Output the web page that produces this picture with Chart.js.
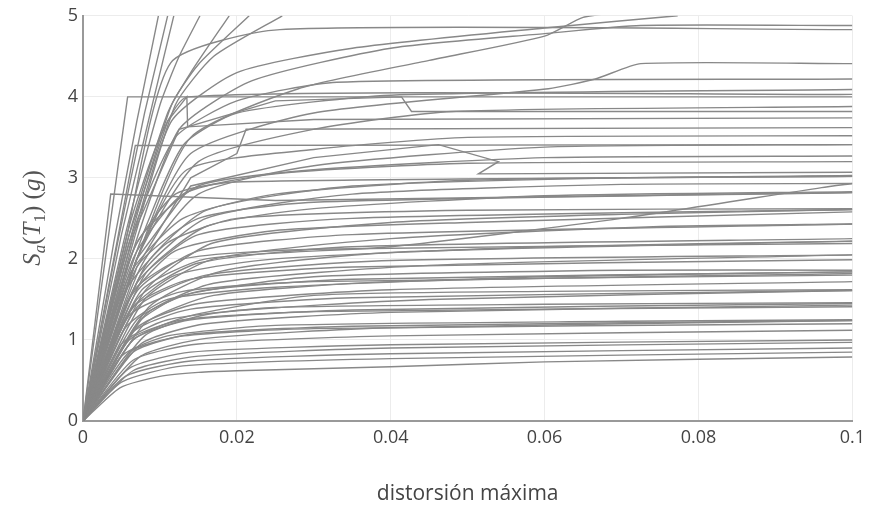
<!DOCTYPE html>
<html>
<head>
<meta charset="utf-8">
<script src="https://cdn.jsdelivr.net/npm/chart.js@4.4.0/dist/chart.umd.min.js"></script>
<style>
  html, body { margin: 0; padding: 0; background: #fff; }
  #wrap { width: 871px; height: 506px; }
</style>
</head>
<body>
<div id="wrap"><canvas id="idaChart" width="871" height="506"></canvas></div>
<script>
// Curvas IDA: cada registro es una lista de puntos [distorsión máxima, Sa(T1) en g]

// registros que superan Sa = 5 g o llegan cerca de ese nivel
const steepCurves = [
  [[0, 0], [0.0040, 2.2], [0.0070, 3.7], [0.0098, 5.0]],
  [[0, 0], [0.0045, 2.2], [0.0080, 3.8], [0.0110, 5.0]],
  [[0, 0], [0.0050, 2.3], [0.0090, 3.9], [0.0118, 5.0]],
  [[0, 0], [0.0055, 2.3], [0.0100, 3.9], [0.0125, 4.5], [0.0152, 5.0]],
  [[0, 0], [0.0060, 2.3], [0.0110, 3.8], [0.0140, 4.3], [0.0190, 5.0]],
  [[0, 0], [0.0060, 2.2], [0.0115, 3.9], [0.0150, 4.4], [0.0216, 5.0]],
  [[0, 0], [0.0065, 2.2], [0.0120, 3.9], [0.0170, 4.5], [0.0259, 5.0]],
  [[0, 0], [0.0055, 2.2], [0.0114, 4.42], [0.0256, 4.83], [0.1, 4.83]],
  [[0, 0], [0.0060, 2.1], [0.0115, 3.7], [0.0200, 4.3], [0.0350, 4.6], [0.0600, 4.85], [0.0773, 5.0]],
  [[0, 0], [0.0065, 2.1], [0.0125, 3.6], [0.0220, 4.2], [0.0400, 4.6], [0.0600, 4.78], [0.0725, 4.88], [0.1, 4.88]],
  [[0, 0], [0.0070, 2.0], [0.0140, 3.5], [0.0280, 4.1], [0.0450, 4.45], [0.0600, 4.75], [0.0650, 4.98], [0.0700, 5.05]]
];

// registros con colapso entre 2.5 y 4.5 g
const upperCurves = [
  [[0, 0], [0.0070, 2.0], [0.0140, 3.3], [0.0300, 3.8], [0.0605, 4.10], [0.0666, 4.22], [0.0725, 4.41], [0.1, 4.41]],
  [[0, 0], [0.0060, 2.2], [0.0120, 3.5], [0.0200, 3.95], [0.0330, 4.18], [0.1, 4.22]],
  [[0, 0], [0.0058, 4.0], [0.1, 4.0]],
  [[0, 0], [0.0060, 2.4], [0.0100, 3.5], [0.0136, 4.0], [0.1, 4.03]],
  [[0, 0], [0.0070, 2.1], [0.0130, 3.4], [0.0200, 3.8], [0.0400, 4.02], [0.1, 4.09]],
  [[0, 0], [0.0070, 2.0], [0.0150, 3.2], [0.0300, 3.6], [0.0480, 3.82], [0.1, 3.88]],
  [[0, 0], [0.0065, 2.3], [0.0125, 3.6], [0.0250, 3.95], [0.0414, 4.0], [0.0427, 3.82], [0.1, 3.82]],
  [[0, 0], [0.0060, 2.3], [0.0110, 3.7], [0.0135, 4.0], [0.0136, 3.63], [0.0300, 3.72], [0.1, 3.74]],
  [[0, 0], [0.0070, 1.9], [0.0140, 3.0], [0.0200, 3.3], [0.0212, 3.6], [0.1, 3.62]],
  [[0, 0], [0.0070, 2.0], [0.0135, 3.1], [0.0300, 3.35], [0.0500, 3.50], [0.1, 3.52]],
  [[0, 0], [0.0068, 3.4], [0.1, 3.41]],
  [[0, 0], [0.0070, 2.0], [0.0140, 2.9], [0.0300, 3.25], [0.0462, 3.41], [0.0540, 3.20], [0.0514, 3.05], [0.1, 3.07]],
  [[0, 0], [0.0075, 1.9], [0.0150, 2.8], [0.0300, 3.15], [0.0600, 3.38], [0.1, 3.41]],
  [[0, 0], [0.0070, 2.2], [0.0150, 2.9], [0.0300, 3.1], [0.0600, 3.25], [0.1, 3.27]],
  [[0, 0], [0.0065, 2.0], [0.0130, 2.8], [0.0250, 3.05], [0.0500, 3.18], [0.1, 3.20]],
  [[0, 0], [0.0065, 2.1], [0.0120, 2.8], [0.0200, 2.95], [0.1, 3.02]],
  [[0, 0], [0.0080, 1.9], [0.0160, 2.6], [0.0350, 2.9], [0.0700, 3.0], [0.1, 3.02]],
  [[0, 0], [0.0075, 1.8], [0.0160, 2.5], [0.0350, 2.8], [0.0700, 2.92], [0.1, 2.93]],
  [[0, 0], [0.0036, 2.8], [0.0250, 2.72], [0.1, 2.82]],
  [[0, 0], [0.0070, 1.9], [0.0150, 2.5], [0.0300, 2.7], [0.1, 2.82]],
  [[0, 0], [0.0080, 1.8], [0.0160, 2.4], [0.0300, 2.62], [0.0600, 2.78], [0.1, 2.83]],
  [[0, 0], [0.0060, 1.8], [0.0130, 2.5], [0.0250, 2.8], [0.0500, 2.97], [0.1, 3.03]]
];

// registros con colapso por debajo de 2.7 g
const lowerCurves = [
  [[0, 0], [0.0070, 1.7], [0.0150, 2.3], [0.0350, 2.5], [0.1, 2.61]],
  [[0, 0], [0.0080, 1.6], [0.0170, 2.2], [0.0400, 2.45], [0.0700, 2.55], [0.1, 2.61]],
  [[0, 0], [0.0075, 1.6], [0.0160, 2.0], [0.0400, 2.15], [0.0700, 2.5], [0.0960, 2.88], [0.1, 2.93]],
  [[0, 0], [0.0060, 1.5], [0.0120, 2.1], [0.0250, 2.35], [0.0500, 2.45], [0.1, 2.58]],
  [[0, 0], [0.0055, 1.6], [0.0110, 2.2], [0.0200, 2.5], [0.0500, 2.6], [0.1, 2.62]],
  [[0, 0], [0.0070, 1.6], [0.0150, 2.1], [0.0350, 2.3], [0.1, 2.43]],
  [[0, 0], [0.0080, 1.5], [0.0170, 2.0], [0.0400, 2.25], [0.0750, 2.4], [0.1, 2.43]],
  [[0, 0], [0.0070, 1.5], [0.0150, 1.95], [0.0350, 2.15], [0.1, 2.25]],
  [[0, 0], [0.0085, 1.4], [0.0180, 1.85], [0.0400, 2.08], [0.1, 2.22]],
  [[0, 0], [0.0060, 1.35], [0.0120, 1.8], [0.0250, 2.0], [0.0600, 2.15], [0.1, 2.22]],
  [[0, 0], [0.0065, 1.6], [0.0130, 2.0], [0.0300, 2.12], [0.1, 2.19]],
  [[0, 0], [0.0070, 1.4], [0.0160, 1.8], [0.0400, 1.98], [0.1, 2.05]],
  [[0, 0], [0.0080, 1.3], [0.0170, 1.7], [0.0450, 1.92], [0.1, 2.05]],
  [[0, 0], [0.0065, 1.4], [0.0140, 1.75], [0.0350, 1.9], [0.1, 1.99]],
  [[0, 0], [0.0070, 1.25], [0.0150, 1.6], [0.0350, 1.75], [0.1, 1.84]],
  [[0, 0], [0.0070, 1.2], [0.0130, 1.55], [0.0300, 1.78], [0.0700, 1.86], [0.1, 1.86]],
  [[0, 0], [0.0055, 1.15], [0.0110, 1.5], [0.0250, 1.65], [0.0600, 1.78], [0.1, 1.84]],
  [[0, 0], [0.0080, 1.2], [0.0170, 1.55], [0.0400, 1.72], [0.1, 1.82]],
  [[0, 0], [0.0060, 1.3], [0.0130, 1.6], [0.0300, 1.72], [0.1, 1.80]],
  [[0, 0], [0.0070, 1.15], [0.0150, 1.45], [0.0400, 1.62], [0.1, 1.72]],
  [[0, 0], [0.0065, 1.1], [0.0140, 1.38], [0.0350, 1.52], [0.1, 1.61]],
  [[0, 0], [0.0080, 1.05], [0.0170, 1.33], [0.0450, 1.5], [0.1, 1.61]],
  [[0, 0], [0.0065, 1.0], [0.0140, 1.3], [0.0300, 1.55], [0.0600, 1.6], [0.1, 1.62]],
  [[0, 0], [0.0065, 1.0], [0.0140, 1.25], [0.0350, 1.37], [0.1, 1.45]],
  [[0, 0], [0.0050, 0.95], [0.0110, 1.25], [0.0250, 1.4], [0.0600, 1.44], [0.1, 1.46]],
  [[0, 0], [0.0075, 0.95], [0.0160, 1.2], [0.0400, 1.34], [0.1, 1.43]],
  [[0, 0], [0.0060, 1.0], [0.0130, 1.25], [0.0300, 1.35], [0.1, 1.41]],
  [[0, 0], [0.0065, 0.85], [0.0140, 1.07], [0.0350, 1.17], [0.1, 1.24]],
  [[0, 0], [0.0075, 0.8], [0.0160, 1.02], [0.0400, 1.15], [0.1, 1.24]],
  [[0, 0], [0.0050, 0.8], [0.0110, 1.05], [0.0250, 1.18], [0.0700, 1.23], [0.1, 1.25]],
  [[0, 0], [0.0060, 0.85], [0.0130, 1.05], [0.0300, 1.14], [0.1, 1.20]],
  [[0, 0], [0.0065, 0.75], [0.0150, 0.95], [0.0400, 1.05], [0.1, 1.12]],
  [[0, 0], [0.0060, 0.65], [0.0140, 0.85], [0.0400, 0.94], [0.1, 1.00]],
  [[0, 0], [0.0065, 0.62], [0.0150, 0.8], [0.0400, 0.9], [0.1, 0.97]],
  [[0, 0], [0.0055, 0.55], [0.0140, 0.74], [0.0400, 0.83], [0.1, 0.90]],
  [[0, 0], [0.0050, 0.48], [0.0130, 0.68], [0.0400, 0.77], [0.1, 0.85]],
  [[0, 0], [0.0048, 0.41], [0.0100, 0.55], [0.0150, 0.60], [0.0200, 0.62], [0.0400, 0.67], [0.0600, 0.73], [0.1, 0.79]]
];

const xTickValues = [0, 0.02, 0.04, 0.06, 0.08, 0.1];
const xTickLabels = ['0', '0.02', '0.04', '0.06', '0.08', '0.1'];
const yTickValues = [0, 1, 2, 3, 4, 5];

const LINE_COLOR = '#888';
const TEXT_COLOR = '#444';

const allCurves = steepCurves.concat(upperCurves, lowerCurves);

// quiebres bruscos (saltos, retrocesos o tramos casi verticales) van sin suavizado
function isSharp(pts) {
  for (let i = 1; i < pts.length; i++) {
    const dx = pts[i][0] - pts[i - 1][0];
    if (dx < 0.002) return true;
  }
  return pts[1][1] / pts[1][0] > 450;
}

const datasets = allCurves.map(pts => ({
  data: pts.map(p => ({ x: p[0], y: p[1] })),
  borderColor: LINE_COLOR,
  borderWidth: 1.4,
  pointRadius: 0,
  pointHoverRadius: 0,
  tension: isSharp(pts) ? 0 : 0.2,
  fill: false
}));

// títulos de ejes dibujados a mano (el de Y lleva subíndices)
const axisTitles = {
  id: 'axisTitles',
  afterDraw(chart) {
    const ctx = chart.ctx;
    const area = chart.chartArea;
    ctx.save();
    ctx.fillStyle = TEXT_COLOR;
    ctx.font = '21px "Open Sans", sans-serif';
    ctx.textAlign = 'center';
    ctx.textBaseline = 'middle';
    ctx.fillText('distorsión máxima', (area.left + area.right) / 2, 494);
    ctx.restore();

    // S_a(T_1) (g)
    const parts = [
      ['S', 'italic', false], ['a', 'italic', true], ['(', 'normal', false],
      ['T', 'italic', false], ['1', 'normal', true], [')', 'normal', false],
      [' ', 'normal', false], ['(', 'normal', false], ['g', 'italic', false],
      [')', 'normal', false]
    ];
    const big = 25, small = 17;
    const fontFor = p => `${p[1]} ${p[2] ? small : big}px "Liberation Serif", "DejaVu Serif", serif`;
    ctx.save();
    ctx.fillStyle = '#555';
    let total = 0;
    const widths = parts.map(p => {
      ctx.font = fontFor(p);
      const w = ctx.measureText(p[0]).width;
      total += w;
      return w;
    });
    ctx.translate(40, 218);
    ctx.rotate(-Math.PI / 2);
    ctx.textBaseline = 'alphabetic';
    ctx.textAlign = 'left';
    let cx = -total / 2;
    parts.forEach((p, i) => {
      ctx.font = fontFor(p);
      ctx.fillText(p[0], cx, p[2] ? 5 : 0);
      cx += widths[i];
    });
    ctx.restore();
  }
};

new Chart(document.getElementById('idaChart'), {
  type: 'line',
  data: { datasets },
  options: {
    responsive: false,
    animation: false,
    parsing: false,
    events: [],
    layout: { padding: { left: 0, right: 16, top: 15, bottom: 0 } },
    plugins: {
      legend: { display: false },
      tooltip: { enabled: false }
    },
    scales: {
      x: {
        type: 'linear',
        min: 0,
        max: 0.1,
        afterFit: s => { s.height = 85; },
        afterBuildTicks: s => { s.ticks = xTickValues.map(v => ({ value: v })); },
        grid: { color: '#ececec', lineWidth: 1, drawTicks: false },
        border: { color: '#999', width: 2 },
        ticks: {
          padding: 6,
          color: TEXT_COLOR,
          font: { family: '"Open Sans", sans-serif', size: 18 },
          maxRotation: 0,
          callback: (v, i) => xTickLabels[i]
        }
      },
      y: {
        min: 0,
        max: 5,
        afterFit: s => { s.width = 83; },
        afterBuildTicks: s => { s.ticks = yTickValues.map(v => ({ value: v })); },
        grid: { color: '#ececec', lineWidth: 1, drawTicks: false },
        border: { color: '#999', width: 2 },
        ticks: {
          padding: 5,
          color: TEXT_COLOR,
          font: { family: '"Open Sans", sans-serif', size: 18 },
          callback: v => String(v)
        }
      }
    }
  },
  plugins: [axisTitles]
});
</script>
</body>
</html>
